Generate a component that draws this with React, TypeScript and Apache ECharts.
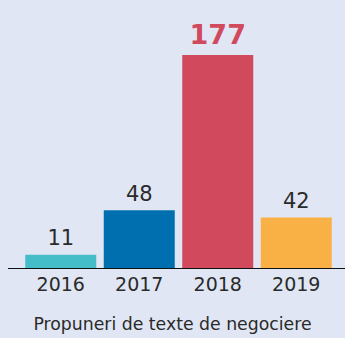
import React, { useEffect, useRef } from "react";
import * as echarts from "echarts";

const years = ["2016", "2017", "2018", "2019"];
const proposals = [11, 48, 177, 42];
const barColors = ["#45bdc8", "#006fb0", "#d0495d", "#f9b045"];
const caption = "Propuneri de texte de negociere";

export default function App() {
  const ref = useRef<HTMLDivElement>(null);

  useEffect(() => {
    if (!ref.current) return;
    const chart = echarts.init(ref.current, null, { renderer: "svg" });
    const font = "DejaVu Sans";
    const peak = Math.max(...proposals);

    chart.setOption({
      animation: false,
      backgroundColor: "#e0e6f3",
      textStyle: { fontFamily: font },
      grid: { left: 21.5, right: 9.5, top: 55, bottom: 70 },
      xAxis: {
        type: "category",
        data: years,
        axisLine: { show: false },
        axisTick: { show: false },
        axisLabel: { color: "#2a2a2a", fontSize: 19, fontFamily: font, margin: 6 },
      },
      yAxis: {
        type: "value",
        min: 0,
        max: peak,
        show: false,
        splitLine: { show: false },
      },
      series: [
        {
          type: "bar",
          barWidth: 71,
          data: proposals.map((v, i) => {
            const isPeak = v === peak;
            return {
              value: v,
              itemStyle: { color: barColors[i] },
              label: {
                show: true,
                position: "top",
                distance: isPeak ? 7 : 6,
                color: isPeak ? barColors[i] : "#2a2a2a",
                fontSize: isPeak ? 27 : 21,
                fontWeight: isPeak ? "bold" : "normal",
                fontFamily: font,
              },
            };
          }),
        },
      ],
      title: {
        text: caption,
        left: "center",
        bottom: 1,
        textStyle: { color: "#2a2a2a", fontSize: 17.3, fontWeight: "normal", fontFamily: font },
      },
    });

    // Baseline spanning from the left margin to the right edge
    const y0 = chart.convertToPixel({ yAxisIndex: 0 }, 0) as number;
    chart.setOption({
      graphic: [
        {
          type: "line",
          shape: { x1: 8, y1: y0 + 0.5, x2: 345, y2: y0 + 0.5 },
          style: { stroke: "#111", lineWidth: 1.2 },
          z: 10,
        },
      ],
    });

    return () => chart.dispose();
  }, []);

  return (
    <div
      ref={ref}
      style={{ position: "fixed", left: 0, top: 0, width: 345, height: 338 }}
    />
  );
}
